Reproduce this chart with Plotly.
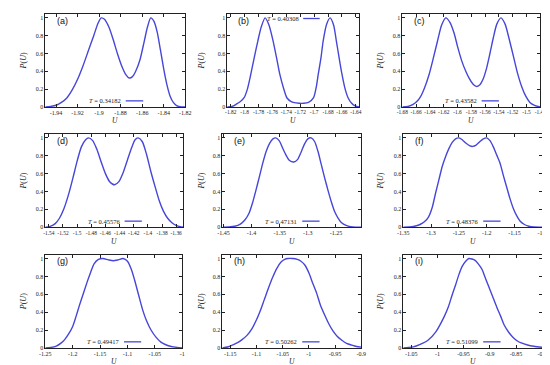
import plotly.graph_objects as go

# ---------------- data ----------------
labels = ["(a)", "(b)", "(c)", "(d)", "(e)", "(f)", "(g)", "(h)", "(i)"]
temps = ["0.34182", "0.40308", "0.43582", "0.45576", "0.47131",
         "0.48376", "0.49417", "0.50262", "0.51099"]

U_a = [-1.950, -1.945, -1.940, -1.935, -1.930, -1.925, -1.920, -1.915, -1.910, -1.905,
       -1.901, -1.898, -1.895, -1.891, -1.887, -1.883, -1.879, -1.875, -1.872, -1.869,
       -1.866, -1.862, -1.858, -1.855, -1.852, -1.849, -1.846, -1.843, -1.840, -1.837,
       -1.834, -1.831, -1.828, -1.825, -1.820]
P_a = [0.0, 0.005, 0.018, 0.05, 0.10, 0.19, 0.31, 0.46, 0.63, 0.80,
       0.94, 1.0, 0.985, 0.90, 0.76, 0.60, 0.46, 0.36, 0.325, 0.34,
       0.40, 0.53, 0.74, 0.90, 1.0, 0.96, 0.84, 0.64, 0.43, 0.25,
       0.12, 0.05, 0.015, 0.003, 0.0]

U_b = [-1.825, -1.818, -1.812, -1.806, -1.801, -1.796, -1.791, -1.786, -1.781, -1.776,
       -1.7705, -1.765, -1.759, -1.754, -1.7495, -1.744, -1.739, -1.733, -1.726, -1.715,
       -1.708, -1.701, -1.697, -1.694, -1.690, -1.687, -1.682, -1.677, -1.672, -1.668,
       -1.664, -1.660, -1.656, -1.651, -1.646, -1.641, -1.635]
P_b = [0.0, 0.005, 0.03, 0.06, 0.10, 0.20, 0.37, 0.56, 0.74, 0.90,
       1.0, 0.92, 0.74, 0.55, 0.37, 0.21, 0.10, 0.06, 0.045, 0.04,
       0.05, 0.10, 0.22, 0.37, 0.56, 0.74, 0.93, 1.0, 0.92, 0.74,
       0.55, 0.37, 0.22, 0.10, 0.04, 0.01, 0.0]

U_c = [-1.680, -1.672, -1.665, -1.659, -1.654, -1.648, -1.641, -1.635, -1.629, -1.623,
       -1.617, -1.611, -1.605, -1.600, -1.594, -1.588, -1.583, -1.578, -1.573, -1.568,
       -1.563, -1.558, -1.553, -1.548, -1.543, -1.537, -1.531, -1.525, -1.519, -1.513,
       -1.507, -1.501, -1.495, -1.489, -1.483, -1.480]
P_c = [0.0, 0.005, 0.025, 0.06, 0.11, 0.21, 0.37, 0.55, 0.74, 0.92,
       1.0, 0.95, 0.83, 0.68, 0.52, 0.40, 0.32, 0.26, 0.23, 0.245,
       0.31, 0.43, 0.60, 0.78, 0.93, 1.0, 0.93, 0.76, 0.57, 0.38,
       0.23, 0.12, 0.05, 0.02, 0.004, 0.0]

U_d = [-1.545, -1.538, -1.531, -1.525, -1.519, -1.512, -1.506, -1.500, -1.494, -1.488,
       -1.484, -1.478, -1.472, -1.466, -1.460, -1.454, -1.447, -1.441, -1.435, -1.429,
       -1.423, -1.418, -1.414, -1.408, -1.402, -1.396, -1.390, -1.384, -1.378, -1.372,
       -1.366, -1.360, -1.354, -1.350]
P_d = [0.0, 0.01, 0.04, 0.10, 0.20, 0.37, 0.55, 0.74, 0.90, 0.98,
       1.0, 0.97, 0.87, 0.73, 0.60, 0.51, 0.475, 0.51, 0.61, 0.75,
       0.89, 0.98, 1.0, 0.96, 0.82, 0.63, 0.46, 0.30, 0.18, 0.10,
       0.05, 0.02, 0.005, 0.0]

U_e = [-1.450, -1.440, -1.430, -1.420, -1.412, -1.405, -1.398, -1.392, -1.386, -1.380,
       -1.374, -1.368, -1.362, -1.357, -1.351, -1.345, -1.339, -1.333, -1.325, -1.318,
       -1.312, -1.306, -1.300, -1.294, -1.288, -1.282, -1.276, -1.270, -1.264, -1.258,
       -1.252, -1.246, -1.240, -1.232, -1.224, -1.215, -1.205]
P_e = [0.0, 0.002, 0.01, 0.035, 0.08, 0.15, 0.28, 0.42, 0.57, 0.72,
       0.85, 0.94, 0.99, 1.0, 0.97, 0.89, 0.81, 0.75, 0.73, 0.76,
       0.84, 0.93, 0.99, 1.0, 0.96, 0.85, 0.70, 0.55, 0.41, 0.28,
       0.17, 0.10, 0.05, 0.02, 0.005, 0.0, 0.0]

U_f = [-1.350, -1.340, -1.330, -1.320, -1.312, -1.305, -1.298, -1.292, -1.286, -1.280,
       -1.274, -1.268, -1.262, -1.256, -1.250, -1.244, -1.237, -1.230, -1.225, -1.219,
       -1.212, -1.206, -1.200, -1.194, -1.188, -1.182, -1.176, -1.170, -1.164, -1.158,
       -1.152, -1.146, -1.140, -1.132, -1.124, -1.115, -1.100]
P_f = [0.0, 0.002, 0.01, 0.03, 0.06, 0.11, 0.22, 0.38, 0.53, 0.68,
       0.79, 0.88, 0.95, 0.99, 1.0, 0.98, 0.94, 0.91, 0.905, 0.92,
       0.96, 0.99, 1.0, 0.97, 0.90, 0.81, 0.72, 0.58, 0.45, 0.32,
       0.21, 0.13, 0.07, 0.03, 0.01, 0.002, 0.0]

U_g = [-1.250, -1.240, -1.230, -1.222, -1.215, -1.208, -1.200, -1.194, -1.188, -1.181,
       -1.174, -1.167, -1.161, -1.153, -1.145, -1.135, -1.126, -1.117, -1.108, -1.100,
       -1.093, -1.087, -1.080, -1.072, -1.065, -1.057, -1.048, -1.039, -1.030, -1.020,
       -1.009, -1.000]
P_g = [0.0, 0.005, 0.02, 0.05, 0.09, 0.15, 0.24, 0.35, 0.47, 0.60,
       0.73, 0.85, 0.94, 0.99, 1.0, 0.985, 0.975, 0.985, 1.0, 0.97,
       0.88, 0.76, 0.60, 0.42, 0.30, 0.20, 0.12, 0.065, 0.035, 0.015,
       0.005, 0.0]

U_h = [-1.165, -1.155, -1.146, -1.137, -1.128, -1.118, -1.109, -1.101, -1.093, -1.085,
       -1.077, -1.069, -1.061, -1.053, -1.046, -1.040, -1.031, -1.022, -1.015, -1.008,
       -1.000, -0.993, -0.985, -0.978, -0.970, -0.962, -0.954, -0.946, -0.937, -0.928,
       -0.918, -0.909, -0.900]
P_h = [0.0, 0.01, 0.03, 0.055, 0.09, 0.14, 0.21, 0.30, 0.41, 0.54,
       0.67, 0.79, 0.89, 0.96, 0.99, 1.0, 1.0, 0.99, 0.97, 0.93,
       0.84, 0.73, 0.61, 0.48, 0.37, 0.27, 0.19, 0.13, 0.085, 0.05,
       0.03, 0.015, 0.008]

U_i = [-1.065, -1.055, -1.046, -1.034, -1.018, -1.003, -0.987, -0.979, -0.972, -0.965,
       -0.959, -0.953, -0.946, -0.940, -0.934, -0.928, -0.922, -0.915, -0.909, -0.903,
       -0.895, -0.887, -0.879, -0.872, -0.864, -0.856, -0.848, -0.840, -0.828, -0.816,
       -0.800]
P_i = [0.0, 0.005, 0.012, 0.037, 0.086, 0.18, 0.35, 0.46, 0.59, 0.71,
       0.82, 0.91, 0.97, 1.0, 0.995, 0.98, 0.94, 0.88, 0.79, 0.70,
       0.58, 0.46, 0.35, 0.25, 0.175, 0.12, 0.08, 0.055, 0.032, 0.018,
       0.007]

xticks_a = ["-1.94", "-1.92", "-1.9", "-1.88", "-1.86", "-1.84", "-1.82"]
xticks_b = ["-1.82", "-1.8", "-1.78", "-1.76", "-1.74", "-1.72", "-1.7", "-1.68", "-1.66", "-1.64"]
xticks_c = ["-1.68", "-1.66", "-1.64", "-1.62", "-1.6", "-1.58", "-1.56", "-1.54", "-1.52", "-1.5", "-1.48"]
xticks_d = ["-1.54", "-1.52", "-1.5", "-1.48", "-1.46", "-1.44", "-1.42", "-1.4", "-1.38", "-1.36"]
xticks_e = ["-1.45", "-1.4", "-1.35", "-1.3", "-1.25"]
xticks_f = ["-1.35", "-1.3", "-1.25", "-1.2", "-1.15", "-1.1"]
xticks_g = ["-1.25", "-1.2", "-1.15", "-1.1", "-1.05", "-1"]
xticks_h = ["-1.15", "-1.1", "-1.05", "-1", "-0.95", "-0.9"]
xticks_i = ["-1.05", "-1", "-0.95", "-0.9", "-0.85", "-0.8"]
yticks = ["0", "0.2", "0.4", "0.6", "0.8", "1"]

x_ranges = [[-1.95, -1.82], [-1.825, -1.635], [-1.68, -1.48],
            [-1.545, -1.35], [-1.452, -1.205], [-1.35, -1.1],
            [-1.25, -1.0], [-1.165, -0.9], [-1.065, -0.8]]

# ---------------- layout (pixel boxes of each panel) ----------------
W, H = 550, 365
px_x = [(32, 175), (218, 353), (397, 538),
        (32, 173), (213, 355), (398, 540),
        (32, 172), (213, 355), (398, 540)]
px_y = [(6.4, 99.7), (127.4, 221), (249, 342.7)]
legend_top = [False, True, False, False, False, False, False, False, False]

curves = [(U_a, P_a), (U_b, P_b), (U_c, P_c), (U_d, P_d), (U_e, P_e),
          (U_f, P_f), (U_g, P_g), (U_h, P_h), (U_i, P_i)]
xtick_lists = [xticks_a, xticks_b, xticks_c, xticks_d, xticks_e,
               xticks_f, xticks_g, xticks_h, xticks_i]

LINE = "#4646d8"
AX = "#222222"
SERIF = "Liberation Serif, Times New Roman, serif"
SANS = "Liberation Sans, Arial, sans-serif"

fig = go.Figure()
annotations = []
shapes = []
layout = dict(width=W, height=H, margin=dict(l=0, r=0, t=0, b=0),
              paper_bgcolor="white", plot_bgcolor="white", showlegend=False)

for k in range(9):
    n = "" if k == 0 else str(k + 1)
    U, P = curves[k]
    fig.add_trace(go.Scatter(x=U, y=P, mode="lines",
                             line=dict(color=LINE, width=1.4, shape="spline", smoothing=0.7),
                             xaxis="x" + n, yaxis="y" + n, hoverinfo="skip"))
    x0, x1 = px_x[k]
    y0, y1 = px_y[k // 3]
    tl = xtick_lists[k]
    crowded = len(tl) > 7
    layout["xaxis" + n] = dict(
        domain=[x0 / W, x1 / W], anchor="y" + n, range=x_ranges[k],
        tickvals=[float(t) for t in tl], ticktext=tl, tickangle=0,
        showgrid=False, zeroline=False, showline=True, linecolor=AX, linewidth=0.8,
        mirror="ticks", ticks="inside", ticklen=3, tickwidth=0.6, tickcolor=AX,
        tickfont=dict(family=SERIF, size=5.4 if crowded else 6, color=AX))
    layout["yaxis" + n] = dict(
        domain=[1 - y1 / H, 1 - y0 / H], anchor="x" + n, range=[0, 1.04],
        tickvals=[float(t) for t in yticks], ticktext=yticks,
        showgrid=False, zeroline=False, showline=True, linecolor=AX, linewidth=0.8,
        mirror="ticks", ticks="inside", ticklen=3, tickwidth=0.6, tickcolor=AX,
        tickfont=dict(family=SERIF, size=6, color=AX))
    # panel label
    annotations.append(dict(text=labels[k], xref="x" + n + " domain", yref="y" + n + " domain",
                            x=0.07, y=0.93, xanchor="left", yanchor="middle", showarrow=False,
                            font=dict(family=SANS, size=9, color="#111")))
    # legend entry
    ly = 0.955 if legend_top[k] else 0.065
    annotations.append(dict(text="<i>T</i> = " + temps[k], xref="x" + n + " domain",
                            yref="y" + n + " domain", x=0.555, y=ly, xanchor="right",
                            yanchor="middle", showarrow=False,
                            font=dict(family=SERIF, size=6.5, color=AX)))
    shapes.append(dict(type="line", xref="x" + n + " domain", yref="y" + n + " domain",
                       x0=0.575, x1=0.70, y0=ly, y1=ly, line=dict(color=LINE, width=1.3)))
    # axis titles
    col = k % 3
    ytitle_x = [10, 192, 375][col]
    annotations.append(dict(text="<i>P</i>(<i>U</i>)", xref="paper", yref="paper",
                            x=ytitle_x / W, y=1 - (y0 + y1) / 2 / H, textangle=-90,
                            xanchor="center", yanchor="middle", showarrow=False,
                            font=dict(family=SERIF, size=8, color=AX)))
    annotations.append(dict(text="<i>U</i>", xref="paper", yref="paper",
                            x=(x0 + x1) / 2 / W, y=1 - (y1 + 14) / H,
                            xanchor="center", yanchor="middle", showarrow=False,
                            font=dict(family=SERIF, size=7.5, color=AX)))

layout["annotations"] = annotations
layout["shapes"] = shapes
fig.update_layout(**layout)
fig.write_html("out.html")
